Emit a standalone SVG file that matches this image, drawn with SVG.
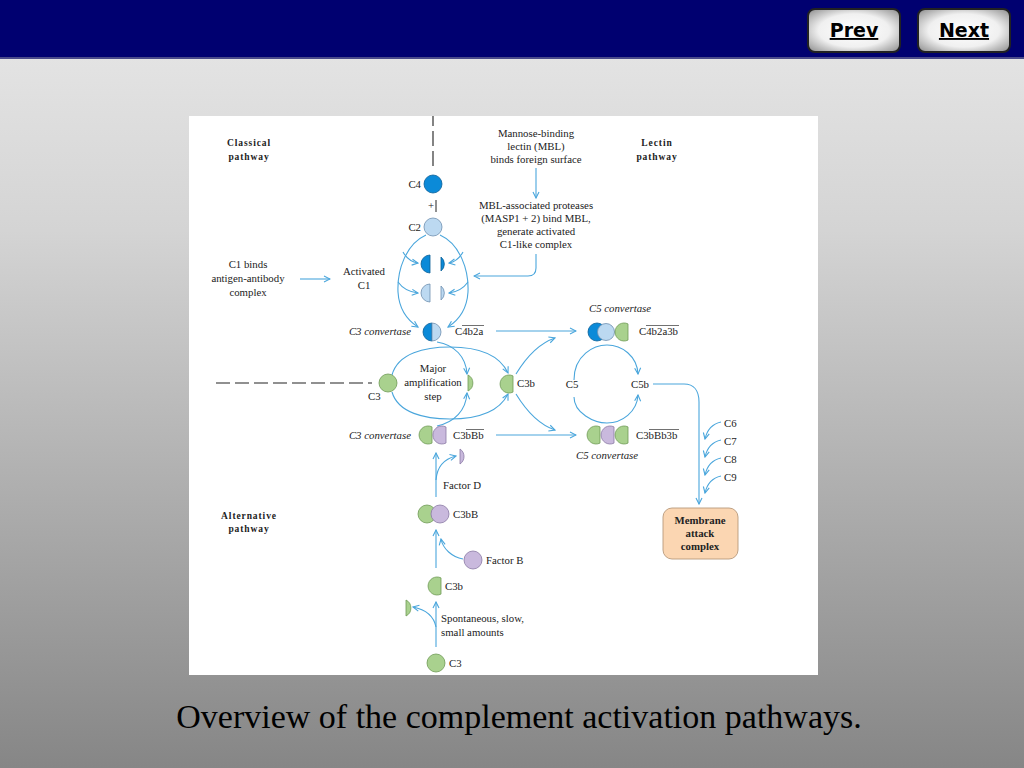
<svg xmlns="http://www.w3.org/2000/svg" width="1024" height="768" viewBox="0 0 1024 768">
<defs>
<linearGradient id="bg" x1="0" y1="0" x2="0" y2="1">
<stop offset="0" stop-color="#e8e8e8"/>
<stop offset="0.3" stop-color="#d4d4d4"/>
<stop offset="1" stop-color="#868686"/>
</linearGradient>
<radialGradient id="btn" cx="0.5" cy="0.5" r="0.7">
<stop offset="0" stop-color="#ffffff"/>
<stop offset="0.55" stop-color="#f0f0f0"/>
<stop offset="1" stop-color="#8a8a8a"/>
</radialGradient>
<marker id="ah" viewBox="0 0 8 8" refX="7" refY="4" markerWidth="8" markerHeight="8" markerUnits="userSpaceOnUse" orient="auto">
<path d="M1,1 L7,4 L1,7" fill="none" stroke="#4aa6dc" stroke-width="1.1"/>
</marker>
<style>
.t{font-family:"Liberation Serif","Times New Roman",serif;font-size:10.8px;fill:#222}
.i{font-style:italic}
.b{font-weight:bold;font-size:9.5px;letter-spacing:0.9px}
.m{text-anchor:middle}
.e{text-anchor:end}
.c{fill:none;stroke:#4aa6dc;stroke-width:1.1}
.a{marker-end:url(#ah)}
.g{fill:#a9d18e;stroke:#6f9a55;stroke-width:0.8}
.p{fill:#c9b9dd;stroke:#8a7aa5;stroke-width:0.8}
.d{fill:#0b8ad8;stroke:#0a5f98;stroke-width:0.8}
.l{fill:#bcd9f1;stroke:#6f8fb0;stroke-width:0.8}
.ol{stroke:#333;stroke-width:0.7}
.btxt{font-family:"DejaVu Sans",Verdana,sans-serif;font-weight:bold;font-size:19px;fill:#000;text-anchor:middle;text-decoration:underline}
</style>
</defs>
<rect x="0" y="0" width="1024" height="768" fill="url(#bg)"/>
<rect x="0" y="0" width="1024" height="58" fill="#000070"/>
<rect x="0" y="57" width="1024" height="2" fill="#4a4a8a"/>
<g id="btn-prev">
<rect x="808" y="9" width="92" height="43" rx="7" fill="url(#btn)" stroke="#222" stroke-width="2"/>
<text class="btxt" x="854" y="37">Prev</text>
</g>
<g id="btn-next">
<rect x="918" y="9" width="92" height="43" rx="7" fill="url(#btn)" stroke="#222" stroke-width="2"/>
<text class="btxt" x="964" y="37">Next</text>
</g>
<rect x="189" y="116" width="629" height="559" fill="#ffffff"/>
<text x="519" y="728" font-family="Liberation Serif,Times New Roman,serif" font-size="34" fill="#000" text-anchor="middle">Overview of the complement activation pathways.</text>

<g id="labels">
<text class="t b m" x="249" y="146">Classical</text>
<text class="t b m" x="249" y="160">pathway</text>
<text class="t b m" x="657" y="146">Lectin</text>
<text class="t b m" x="657" y="160">pathway</text>
<text class="t b m" x="249" y="519">Alternative</text>
<text class="t b m" x="249" y="532">pathway</text>
</g>

<g id="connectors">
<path d="M433,116 V126 M433,131 V146 M433,151 V166" stroke="#333" stroke-width="1.2" fill="none"/>
<path d="M216,383 H372" stroke="#222" stroke-width="1.2" stroke-dasharray="14,5" fill="none"/>
<path class="c a" d="M300,279 H330"/>
<path class="c a" d="M536,168 V198"/>
<path class="c a" d="M536,254 V268 Q536,276 528,276 H474"/>
<path class="c a" d="M426,235 C406,244 397,270 398,292 C399,308 407,320 418,327"/>
<path class="c a" d="M440,235 C460,244 469,270 468,292 C467,308 459,320 448,327"/>
<path class="c a" d="M403,252 C407,259 411,262 418,263"/>
<path class="c a" d="M398,282 C403,289 409,292 418,293"/>
<path class="c a" d="M463,252 C459,259 455,262 449,263"/>
<path class="c a" d="M468,282 C463,289 457,292 449,293"/>
<path class="c a" d="M496,331 H576"/>
<path class="c a" d="M496,435 H576"/>
<path class="c a" d="M392,375 C398,353 425,347 450,347 C480,347 500,356 508,373"/>
<path class="c a" d="M437,342 C455,345 466,357 467,374"/>
<path class="c a" d="M392,392 C398,413 425,419 450,419 C480,419 500,410 508,394"/>
<path class="c a" d="M437,426 C455,422 466,410 467,393"/>
<path class="c a" d="M516,374 C527,356 540,343 555,338"/>
<path class="c a" d="M516,394 C527,412 540,425 555,430"/>
<path class="c a" d="M574,380 C574,355 594,345 607,345 C622,345 637,356 638,374"/>
<path class="c a" d="M574,397 C574,413 594,423 607,423 C622,423 637,412 638,395"/>
<path class="c a" d="M653,384 H684 C694,384 699,391 699,402 V504"/>
<path class="c a" d="M721,422 C712,424 707,430 705,439"/>
<path class="c a" d="M721,440 C712,442 707,448 705,457"/>
<path class="c a" d="M721,458 C712,460 707,466 705,475"/>
<path class="c a" d="M721,476 C712,478 707,484 705,493"/>
<path class="c a" d="M436,497 V453"/>
<path class="c a" d="M436,480 C437,466 444,459 456,456"/>
<path class="c a" d="M436,568 V530"/>
<path class="c a" d="M463,559 C452,557 443,549 441,539"/>
<path class="c a" d="M436,647 V602"/>
<path class="c a" d="M436,627 C434,617 428,610 413,607"/>
</g>

<g id="lectin-text">
<text class="t m" x="536" y="137">Mannose-binding</text>
<text class="t m" x="536" y="150">lectin (MBL)</text>
<text class="t m" x="536" y="163">binds foreign surface</text>
<text class="t m" x="536" y="209">MBL-associated proteases</text>
<text class="t m" x="536" y="222">(MASP1 + 2) bind MBL,</text>
<text class="t m" x="536" y="235">generate activated</text>
<text class="t m" x="536" y="248">C1-like complex</text>
</g>

<g id="c1">
<text class="t m" x="248" y="268">C1 binds</text>
<text class="t m" x="248" y="282">antigen-antibody</text>
<text class="t m" x="248" y="296">complex</text>
<text class="t m" x="364" y="275">Activated</text>
<text class="t m" x="364" y="289">C1</text>
</g>

<g id="c4">
<circle class="d" cx="433" cy="184" r="9"/>
<text class="t e" x="421" y="188">C4</text>
<text class="t" x="428" y="209">+</text>
<path d="M436,200 V212" stroke="#222" stroke-width="1"/>
</g>
<g id="c2">
<circle class="l" cx="433" cy="227" r="9"/>
<text class="t e" x="421" y="231">C2</text>
</g>
<g id="c4-split">
<path class="d" d="M430,255 A9,9 0 0 0 430,273 Z"/>
<path class="d" d="M441,257 A9,9 0 0 1 441,271 Z"/>
</g>
<g id="c2-split">
<path class="l" d="M430,284 A9,9 0 0 0 430,302 Z"/>
<path class="l" d="M441,286 A9,9 0 0 1 441,300 Z"/>
</g>

<g id="c4b2a">
<text class="t i e" x="411" y="335">C3 convertase</text>
<path class="d" d="M432,323 A9,9 0 0 0 432,341 Z"/>
<path class="l" d="M432,323 A9,9 0 0 1 432,341 Z"/>
<text class="t" x="455" y="335">C4b2a</text>
<path class="ol" d="M462,325.5 H484"/>
</g>

<g id="c4b2a3b">
<text class="t i m" x="620" y="312">C5 convertase</text>
<circle class="d" cx="597" cy="332" r="9"/>
<circle class="l" cx="606" cy="332" r="8.5"/>
<path class="g" d="M628,323.9 A9,9 0 1 0 628,340.1 Z"/>
<text class="t" x="639" y="335">C4b2a3b</text>
<path class="ol" d="M646,325.5 H679"/>
</g>

<g id="c3-amplification">
<circle class="g" cx="388" cy="383" r="9"/>
<text class="t" x="368" y="400">C3</text>
<text class="t m" x="433" y="372">Major</text>
<text class="t m" x="433" y="386">amplification</text>
<text class="t m" x="433" y="400">step</text>
<path class="g" d="M468,375 A9,9 0 0 1 468,391 Z"/>
</g>

<g id="c3b-mid">
<path class="g" d="M513,375.9 A9,9 0 1 0 513,392.1 Z"/>
<text class="t" x="517" y="387">C3b</text>
</g>

<g id="c5">
<text class="t m" x="572" y="388">C5</text>
<text class="t m" x="640" y="388">C5b</text>
</g>

<g id="c3bbb">
<text class="t i e" x="411" y="439">C3 convertase</text>
<path class="g" d="M432,426.9 A9,9 0 1 0 432,443.1 Z"/>
<path class="p" d="M446,427 A9,9 0 1 0 446,443 Z"/>
<text class="t" x="453" y="439">C3bBb</text>
<path class="ol" d="M466,429.5 H484"/>
</g>

<g id="c3bbb3b">
<path class="g" d="M600,426.9 A9,9 0 1 0 600,443.1 Z"/>
<path class="p" d="M614,426.9 A9,9 0 1 0 614,443.1 Z"/>
<path class="g" d="M628,426.9 A9,9 0 1 0 628,443.1 Z"/>
<text class="t" x="636" y="439">C3bBb3b</text>
<path class="ol" d="M649,429.5 H679"/>
<text class="t i m" x="607" y="459">C5 convertase</text>
</g>

<g id="c6-c9">
<text class="t" x="724" y="427">C6</text>
<text class="t" x="724" y="445">C7</text>
<text class="t" x="724" y="463">C8</text>
<text class="t" x="724" y="481">C9</text>
</g>

<g id="mac">
<rect x="663" y="508" width="75" height="51" rx="9" fill="#fbd6b2" stroke="#b89a7c" stroke-width="0.9"/>
<text class="t m" x="700" y="524" font-weight="bold" font-size="10">Membrane</text>
<text class="t m" x="700" y="537" font-weight="bold" font-size="10">attack</text>
<text class="t m" x="700" y="550" font-weight="bold" font-size="10">complex</text>
</g>

<g id="factor-d">
<path class="p" d="M460,449 A9,9 0 0 1 460,464 Z"/>
<text class="t" x="443" y="489">Factor D</text>
</g>

<g id="c3bb">
<circle class="g" cx="427" cy="514" r="9"/>
<circle class="p" cx="440" cy="514" r="9"/>
<text class="t" x="453" y="518">C3bB</text>
</g>

<g id="factor-b">
<circle class="p" cx="473" cy="560" r="9"/>
<text class="t" x="486" y="564">Factor B</text>
</g>

<g id="c3b-low">
<path class="g" d="M441,577.9 A9,9 0 1 0 441,594.1 Z"/>
<text class="t" x="445" y="590">C3b</text>
</g>

<g id="c3a-low">
<path class="g" d="M406,600 A9,9 0 0 1 406,616 Z"/>
<text class="t" x="441" y="622">Spontaneous, slow,</text>
<text class="t" x="441" y="636">small amounts</text>
</g>

<g id="c3-low">
<circle class="g" cx="436" cy="663" r="9"/>
<text class="t" x="449" y="667">C3</text>
</g>
</svg>
